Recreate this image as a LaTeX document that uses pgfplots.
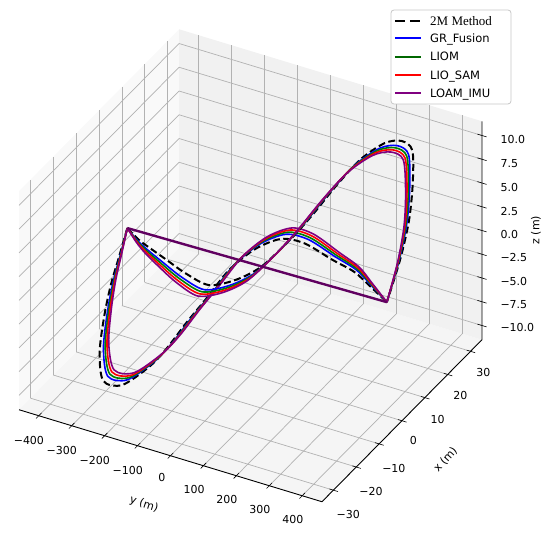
\documentclass[border=0pt]{standalone}
\usepackage{fontspec}
\setmainfont{DejaVu Sans}
\newfontfamily\serifleg{Liberation Serif}
\usepackage{pgfplots}
\pgfplotsset{compat=1.18}
\usepackage{pgfplotstable}

\definecolor{cblue}{HTML}{0000FF}
\definecolor{cgreen}{HTML}{008000}
\definecolor{cred}{HTML}{FF0000}
\definecolor{cpurple}{HTML}{800080}
\definecolor{paneX}{HTML}{F9F9F9}
\definecolor{paneY}{HTML}{F1F1F1}
\definecolor{paneZ}{HTML}{F5F5F5}

% first branch: (xa, aK, za); second branch: (xg, gK, zg); K = series
\pgfplotstableread{
xa     za     xg     zg     a1     a2     a3     a4     a5     g1    g2    g3    g4    g5
-374.0 0      -374.0 0      0      0      0      0      0      0     0     0     0     0
-363.1 -1.66  -374.8 -2.53  -5.21  -4.76  -4.55  -4.34  -4.13  5.21  4.76  4.55  4.34  4.13
-352.1 -3.15  -376.7 -4.63  -10.26 -9.37  -8.96  -8.55  -8.14  10.26 9.37  8.96  8.55  8.14
-339.8 -5.21  -361.7 -6.80  -15.00 -13.70 -13.10 -12.50 -11.90 15.00 13.70 13.10 12.50 11.90
-324.3 -7.86  -331.6 -9.00  -19.28 -17.61 -16.84 -16.07 -15.30 19.28 17.61 16.84 16.07 15.30
-287.6 -9.58  -286.4 -10.67 -22.98 -20.99 -20.07 -19.15 -18.23 22.98 20.99 20.07 19.15 18.23
-209.5 -8.46  -227.8 -10.27 -25.98 -23.73 -22.69 -21.65 -20.61 25.98 23.73 22.69 21.65 20.61
-111.8 -4.97  -164.6 -8.77  -28.19 -25.75 -24.62 -23.49 -22.36 28.19 25.75 24.62 23.49 22.36
-49.5  -2.06  -90.2  -5.62  -29.54 -26.98 -25.80 -24.62 -23.44 29.54 26.98 25.80 24.62 23.44
14.1   1.45   -23.2  -2.35  -30.00 -27.40 -26.20 -25.00 -23.80 30.00 27.40 26.20 25.00 23.80
68.9   4.35   55.6   1.80   -29.54 -26.98 -25.80 -24.62 -23.44 29.54 26.98 25.80 24.62 23.44
131.2  7.79   139.1  5.79   -28.19 -25.75 -24.62 -23.49 -22.36 28.19 25.75 24.62 23.49 22.36
194.3  10.10  227.8  8.96   -25.98 -23.73 -22.69 -21.65 -20.61 25.98 23.73 22.69 21.65 20.61
253.0  11.06  299.7  10.66  -22.98 -20.99 -20.07 -19.15 -18.23 22.98 20.99 20.07 19.15 18.23
298.2  10.16  357.7  11.17  -19.28 -17.61 -16.84 -16.07 -15.30 19.28 17.61 16.84 16.07 15.30
352.6  7.97   388.4  8.99   -15.00 -13.70 -13.10 -12.50 -11.90 15.00 13.70 13.10 12.50 11.90
385.8  5.90   409.8  6.49   -10.26 -9.37  -8.96  -8.55  -8.14  10.26 9.37  8.96  8.55  8.14
399.1  3.30   417.8  3.70   -5.21  -4.76  -4.55  -4.34  -4.13  5.21  4.76  4.55  4.34  4.13
414.0  0.5    414.0  0.5    0      0      0      0      0      0     0     0     0     0
}\traj

\begin{document}
\begin{tikzpicture}
\begin{axis}[
  anchor=origin, at={(0pt,0pt)},
  x={(0.3293pt,-0.1000pt)}, y={(2.286pt,2.314pt)}, z={(0pt,9.5pt)},
  xmin=-460, xmax=460, ymin=-35, ymax=35, zmin=-11.5, zmax=11.5,
  set layers, clip=false,
  grid=major, grid style={black!30, line width=0.7pt},
  axis line style={draw=none},
  tick style={draw=none},
  tick label style={font=\fontsize{11}{13}\selectfont},
  xtick={-400,-300,...,400},
  xticklabels={−400,−300,−200,−100,0,100,200,300,400},
  xticklabel style={xshift=-5pt, yshift=-13pt},
  ytick={-30,-20,...,30},
  yticklabels={−30,−20,−10,0,10,20,30},
  yticklabel style={xshift=5pt, yshift=-11pt},
  ztick={-10,-7.5,...,10},
  zticklabels={−10.0,−7.5,−5.0,−2.5,0.0,2.5,5.0,7.5,10.0},
  zticklabel pos=right,
  zticklabel style={xshift=15pt, yshift=-7.5pt},
]
\begin{pgfonlayer}{axis background}
\fill[paneZ] (axis cs:-460,-35,-11.5) -- (axis cs:460,-35,-11.5) -- (axis cs:460,35,-11.5) -- (axis cs:-460,35,-11.5) -- cycle;
\fill[paneX] (axis cs:-460,-35,-11.5) -- (axis cs:-460,35,-11.5) -- (axis cs:-460,35,11.5) -- (axis cs:-460,-35,11.5) -- cycle;
\fill[paneY] (axis cs:-460,35,-11.5) -- (axis cs:460,35,-11.5) -- (axis cs:460,35,11.5) -- (axis cs:-460,35,11.5) -- cycle;
\end{pgfonlayer}
\draw[black, line width=0.9pt] (axis cs:-460,-35,-11.5) -- (axis cs:460,-35,-11.5) -- (axis cs:460,35,-11.5) -- (axis cs:460,35,11.5);
\pgfplotsinvokeforeach{-400,-300,-200,-100,0,100,200,300,400}{
  \draw[black, line width=0.6pt] (axis cs:#1,-36.2,-11.5) -- (axis cs:#1,-33.8,-11.5);}
\pgfplotsinvokeforeach{-30,-20,-10,0,10,20,30}{
  \draw[black, line width=0.6pt] (axis cs:448,#1,-11.5) -- (axis cs:474,#1,-11.5);}
\pgfplotsinvokeforeach{-10,-7.5,-5,-2.5,0,2.5,5,7.5,10}{
  \draw[black, line width=0.6pt] (axis cs:446,35,#1) -- (axis cs:474,35,#1);}

% first branches
\addplot3[black, dash pattern=on 7pt off 3.5pt, line width=2pt, smooth] table[x=xa, y=a1, z=za] {\traj};
\addplot3[cblue, line width=1.6pt, smooth] table[x=xa, y=a2, z=za] {\traj};
\addplot3[cgreen, line width=1.6pt, smooth] table[x=xa, y=a3, z=za] {\traj};
\addplot3[cred, line width=1.6pt, smooth] table[x=xa, y=a4, z=za] {\traj};
\addplot3[cpurple, line width=1.6pt, smooth] table[x=xa, y=a5, z=za] {\traj};
% second branches
\addplot3[black, dash pattern=on 7pt off 3.5pt, line width=2pt, smooth] table[x=xg, y=g1, z=zg] {\traj};
\addplot3[cblue, line width=1.6pt, smooth] table[x=xg, y=g2, z=zg] {\traj};
\addplot3[cgreen, line width=1.6pt, smooth] table[x=xg, y=g3, z=zg] {\traj};
\addplot3[cred, line width=1.6pt, smooth] table[x=xg, y=g4, z=zg] {\traj};
\addplot3[cpurple, line width=1.6pt, smooth] table[x=xg, y=g5, z=zg] {\traj};
% closing straight segment
\addplot3[cpurple!75!black, line width=2.4pt] coordinates {(-374,0,0) (414,0,0.5)};
\end{axis}
% axis titles
\node[rotate=-18, font=\fontsize{11}{13}\selectfont] at (-106.5pt,-239pt) {y (m)};
\node[rotate=48, font=\fontsize{11}{13}\selectfont] at (195pt,-194pt) {x (m)};
\node[rotate=90, font=\fontsize{11}{13}\selectfont] at (285.5pt,35.5pt) {z (m)};
% legend
\draw[black!22, fill=white, rounded corners=3pt, line width=0.8pt] (140.5pt,161.5pt) rectangle (260.5pt,255.5pt);
\draw[black, line width=2.2pt, dash pattern=on 10pt off 5pt] (144.5pt,244.8pt) -- (170.5pt,244.8pt);
\node[anchor=base west, inner sep=0pt, font=\serifleg\fontsize{13}{14}\selectfont] at (179.5pt,240.4pt) {2M Method};
\draw[cblue, line width=2.2pt] (144.5pt,227.5pt) -- (170.5pt,227.5pt);
\node[anchor=base west, inner sep=0pt, font=\fontsize{11.5}{13}\selectfont] at (179.5pt,223.3pt) {GR\_Fusion};
\draw[cgreen!80!black, line width=2.2pt] (144.5pt,208.8pt) -- (170.5pt,208.8pt);
\node[anchor=base west, inner sep=0pt, font=\fontsize{11.5}{13}\selectfont] at (179.5pt,204.6pt) {LIOM};
\draw[cred, line width=2.2pt] (144.5pt,190.5pt) -- (170.5pt,190.5pt);
\node[anchor=base west, inner sep=0pt, font=\fontsize{11.5}{13}\selectfont] at (179.5pt,186.3pt) {LIO\_SAM};
\draw[cpurple, line width=2.2pt] (144.5pt,172.5pt) -- (170.5pt,172.5pt);
\node[anchor=base west, inner sep=0pt, font=\fontsize{11.5}{13}\selectfont] at (179.5pt,168.3pt) {LOAM\_IMU};
\pgfresetboundingbox
\path[use as bounding box] (-250.5pt,-271.5pt) rectangle (299.5pt,265.5pt);
\end{tikzpicture}
\end{document}
